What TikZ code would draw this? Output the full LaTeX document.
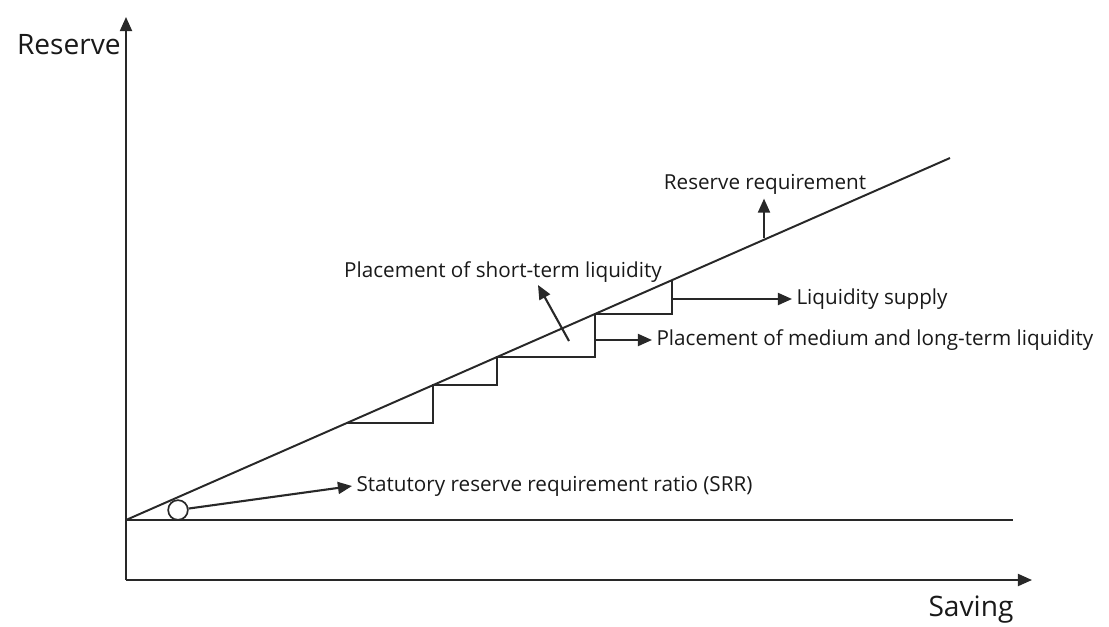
\documentclass[tikz,border=0pt]{standalone}
\usepackage{fontspec}
\setmainfont{Open Sans}
\usepackage{xcolor}
\usetikzlibrary{arrows.meta, calc, positioning}
\definecolor{inkgray}{RGB}{40,40,40}

\tikzset{
  plainline/.style={line width=1.4pt, draw=inkgray},
  pointer/.style={line width=1.5pt, draw=inkgray, -{Triangle[length=10pt, width=8.5pt]}},
  smalltext/.style={font=\fontsize{14.7}{17}\selectfont, text=black!90, inner sep=3pt},
  bigtext/.style={font=\fontsize{20}{24}\selectfont, text=black!90, inner sep=0pt},
}

\begin{document}
\begin{tikzpicture}[x=0.025cm, y=-0.025cm]
    \useasboundingbox (0,0) rectangle (1109,626);

    \coordinate (orig) at (126,580);
    \coordinate (ytip) at (126,17);
    \coordinate (xtip) at (1032,580);
    \coordinate (base) at (126,520);
    \coordinate (baseend) at (1013,520);
    \coordinate (reqend) at (950,158);

    \draw[pointer] (orig) -- (ytip);
    \draw[pointer] (orig) -- (xtip);
    \node[bigtext, anchor=east] (reslbl) at (121,45) {Reserve};
    \node[bigtext] (savlbl) at (971,610) {Saving};

    \draw[plainline] (base) -- (baseend);
    \draw[plainline] (base) -- (reqend);

    \draw[plainline] (347,423) -- (433,423) -- (433,385) -- (497,385) -- (497,357)
        -- (595,357) -- (595,314) -- (672,314) -- (672,280);

    \node[draw=inkgray, line width=1.2pt, fill=white, circle, minimum size=14pt, inner sep=0pt] (srrmark) at (178,510) {};
    \node[smalltext, anchor=west] (srrlbl) at (352,486) {Statutory reserve requirement ratio (SRR)};
    \draw[pointer] (srrmark) -- (srrlbl.west);

    \coordinate (medfoot) at (595,340);
    \node[smalltext, anchor=west] (medlbl) at (652,340) {Placement of medium and long-term liquidity};
    \draw[pointer] (medfoot) -- (medlbl.west);

    \coordinate (supfoot) at (672,299);
    \node[smalltext, anchor=west] (suplbl) at (792,299) {Liquidity supply};
    \draw[pointer] (supfoot) -- (suplbl.west);

    \coordinate (stfoot) at (569,341);
    \coordinate (sttip) at (538,285);
    \node[smalltext] (stlbl) at (503,272) {Placement of short-term liquidity};
    \draw[pointer] (stfoot) -- (sttip);

    \coordinate (rrfoot) at (764,238);
    \node[smalltext] (rrlbl) at (765,184) {Reserve requirement};
    \draw[pointer] (rrfoot) -- (rrlbl.south -| rrfoot);
\end{tikzpicture}
\end{document}
